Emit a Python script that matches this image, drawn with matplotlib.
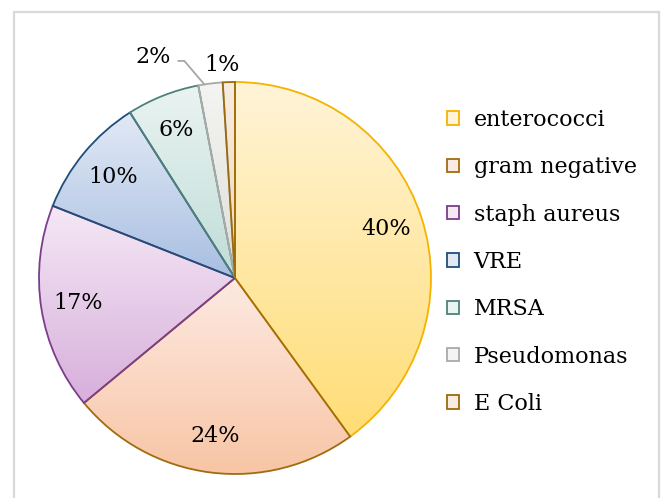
import numpy as np
import matplotlib
matplotlib.use("Agg")
import matplotlib.pyplot as plt
from matplotlib.patches import Rectangle, Patch
from matplotlib.colors import LinearSegmentedColormap

categories = ["enterococci", "gram negative", "staph aureus", "VRE", "MRSA", "Pseudomonas", "E Coli"]
values = [40, 24, 17, 10, 6, 2, 1]
labels = ["40%", "24%", "17%", "10%", "6%", "2%", "1%"]

top_colors = ["#fff4d8", "#fdeae2", "#f5e8f5", "#e2e9f5", "#eaf4f2", "#f4f4f2", "#f8ece0"]
bot_colors = ["#ffdd75", "#f8c5a5", "#d7afdc", "#a8bfe2", "#c0dcd7", "#deded9", "#f1d8c2"]
edge_colors = ["#f5b300", "#a06c0e", "#7b3d8c", "#1f4e79", "#4f8179", "#a9a9a9", "#9a6a0c"]

W, H = 663, 498
fig = plt.figure(figsize=(W / 100, H / 100), dpi=100)
plt.rcParams['font.family'] = ['DejaVu Serif']

cx, cy, R = 235, 278, 196
ax = fig.add_axes([(cx - R) / W, (H - cy - R) / H, 2 * R / W, 2 * R / H])

wedges, _ = ax.pie(values, startangle=90, counterclock=False, radius=1,
                   wedgeprops=dict(linewidth=1.3))
for w, ct, cb, ec in zip(wedges, top_colors, bot_colors, edge_colors):
    w.set_facecolor('none')
    w.set_edgecolor(ec)
    w.set_zorder(3)
    w.set_clip_on(False)
    bb = w.get_path().get_extents()
    cmap = LinearSegmentedColormap.from_list('g', [cb, ct])
    grad = np.linspace(0, 1, 256).reshape(-1, 1)
    im = ax.imshow(grad, extent=[bb.x0, bb.x1, bb.y0, bb.y1], origin='lower',
                   cmap=cmap, aspect='auto', zorder=1, interpolation='bilinear')
    im.set_clip_path(w)

ax.set_xlim(-1, 1)
ax.set_ylim(-1, 1)
ax.set_aspect('equal')
ax.axis('off')

fs = 16
for i, (w, lab) in enumerate(zip(wedges, labels)):
    mid = np.deg2rad((w.theta1 + w.theta2) / 2)
    if i < 5:
        r = 0.81
        ax.text(r * np.cos(mid), r * np.sin(mid), lab, ha='center', va='center', fontsize=fs, zorder=5)
    elif i == 5:
        lx, ly = -82 / R, 221 / R
        ax.text(lx, ly, lab, ha='center', va='center', fontsize=fs, zorder=5)
        edge_ang = np.deg2rad(w.theta1 + 0.75 * (w.theta2 - w.theta1))
        ex, ey = np.cos(edge_ang), np.sin(edge_ang)
        ax.plot([lx + 0.13, lx + 0.16, ex], [ly - 0.02, ly - 0.02, ey], color='#a6a6a6', lw=1.3,
                zorder=4, clip_on=False)
    else:
        ax.text(-13 / R, 213 / R, lab, ha='center', va='center', fontsize=fs, zorder=5)

handles = [Patch(facecolor=c, edgecolor=e, linewidth=1.3) for c, e in zip(top_colors, edge_colors)]
fig.legend(handles, categories, loc='upper left', bbox_to_anchor=(438 / W, 1 - 100 / H),
           frameon=False, fontsize=fs, handlelength=0.55, handleheight=0.55,
           handletextpad=0.65, labelspacing=1.14, borderaxespad=0)

fig.add_artist(Rectangle((14 / W, -0.1), (659 - 14) / W, (H - 12) / H + 0.1,
                         transform=fig.transFigure, fill=False, edgecolor='#d9d9d9', lw=1.6))

fig.savefig("out.png", dpi=100)
